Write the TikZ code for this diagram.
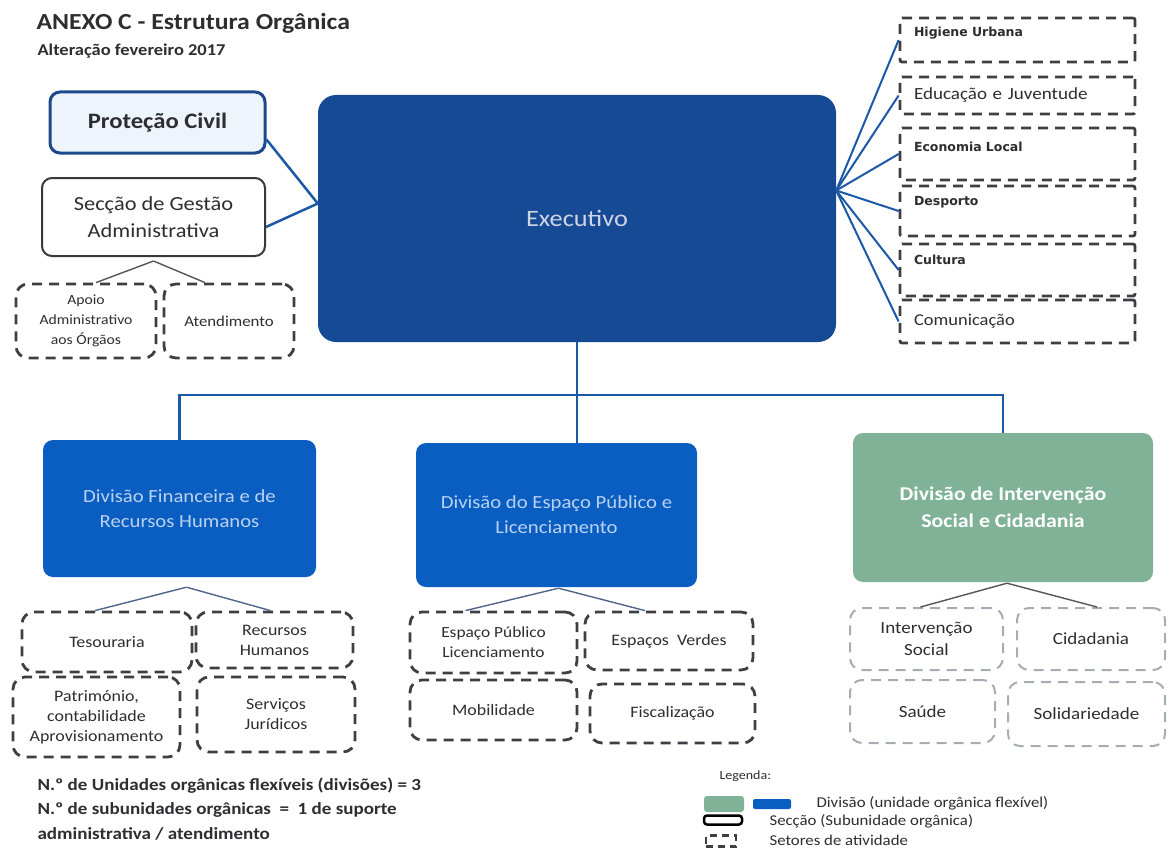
\documentclass[tikz,border=0pt]{standalone}
\usepackage{fontspec}
\setmainfont{Carlito}[FakeStretch=1.12]
\newfontfamily\widefont{DejaVu Sans}
\usetikzlibrary{positioning,calc}

\newcommand\pxfont[2]{\fontsize{#1}{#2}\selectfont}

\definecolor{execblue}{RGB}{22,74,148}
\definecolor{divblue}{RGB}{10,94,194}
\definecolor{divgreen}{RGB}{128,178,152}
\definecolor{exectext}{RGB}{205,212,228}
\definecolor{divtext}{RGB}{185,210,240}
\definecolor{civilblue}{RGB}{30,72,140}
\definecolor{civilfill}{RGB}{238,244,251}
\definecolor{secgray}{RGB}{55,55,60}
\definecolor{dashgray}{RGB}{62,62,68}
\definecolor{lightdash}{RGB}{165,172,180}
\definecolor{linkblue}{RGB}{28,88,168}
\definecolor{textgray}{RGB}{45,45,50}
\definecolor{subblue}{RGB}{80,100,140}
\definecolor{subgray}{RGB}{85,85,85}

\tikzset{every node/.style={text=textgray,font=\pxfont{16}{20}}}
\tikzset{executive/.style={rectangle,rounded corners=18pt,fill=execblue,text=exectext,font=\pxfont{23.5}{28}}}
\tikzset{division/.style={rectangle,rounded corners=10pt,fill=divblue,text=divtext,align=center,font=\pxfont{18.5}{25}}}
\tikzset{greendivision/.style={division,fill=divgreen,text=white,font=\bfseries\pxfont{19.5}{27}}}
\tikzset{section/.style={rectangle,rounded corners=10pt,draw=secgray,line width=2pt,fill=white,align=center,font=\pxfont{20}{27}}}
\tikzset{civil/.style={section,draw=civilblue,line width=3pt,fill=civilfill,font=\bfseries\pxfont{22}{26}}}
\tikzset{sector/.style={rectangle,rounded corners=12pt,draw=dashgray,line width=2.8pt,dash pattern=on 10pt off 7pt,align=center,inner sep=2pt}}
\tikzset{lightsector/.style={sector,draw=lightdash,line width=2pt,font=\pxfont{17}{22}}}
\tikzset{areabox/.style={rectangle,rounded corners=2pt,draw=dashgray,line width=2.8pt,dash pattern=on 10pt off 7pt,align=left,text width=207pt,inner xsep=14pt,minimum width=235pt}}
\tikzset{smallarea/.style={areabox,font=\widefont\bfseries\pxfont{12.5}{15}}}
\tikzset{link/.style={draw=linkblue,line width=2.5pt}}
\tikzset{fan/.style={draw=linkblue,line width=2pt}}
\tikzset{subline/.style={draw=subblue,line width=1.4pt}}

\begin{document}
\begin{tikzpicture}[x=1pt,y=-1pt]
\useasboundingbox (0,0) rectangle (1169,848);

% title
\node[anchor=west,font=\bfseries\pxfont{23}{28}] (title) at (33,23) {ANEXO C - Estrutura Orgânica};
\node[anchor=west,font=\bfseries\pxfont{16.5}{18}] (subtitle) at (34,51) {Alteração fevereiro 2017};

% top level
\node[executive,minimum width=518pt,minimum height=247pt] (exec) at (577,218.5) {Executivo};
\node[civil,minimum width=215pt,minimum height=61pt] (civil) at (157.5,122.5) {Proteção Civil};
\node[section,minimum width=223pt,minimum height=78pt] (seccao) at (153.5,217) {Secção de Gestão\\Administrativa};
\node[sector,minimum width=140pt,minimum height=74pt,font=\pxfont{14}{20}] (apoio) at (86,321) {Apoio\\Administrativo\\aos Órgãos};
\node[sector,minimum width=130pt,minimum height=74pt,font=\pxfont{15}{20}] (atend) at (229,321) {Atendimento};

% sectors of the executive
\node[smallarea,minimum height=44pt,text depth=16pt] (higiene) at (1017.5,40) {Higiene Urbana};
\node[areabox,minimum height=37pt,font=\pxfont{17}{20}] (educacao) at (1017.5,95.5) {Educação e Juventude};
\node[smallarea,minimum height=52pt,text depth=14pt] (economia) at (1017.5,154) {Economia Local};
\node[smallarea,minimum height=50pt,text depth=21pt] (desporto) at (1017.5,211) {Desporto};
\node[smallarea,minimum height=52pt,text depth=21pt] (cultura) at (1017.5,270) {Cultura};
\node[areabox,minimum height=43pt,font=\pxfont{16.5}{20}] (comunicacao) at (1017.5,321.5) {Comunicação};

% divisions
\node[division,minimum width=273pt,minimum height=137pt] (fin) at (179.5,508.5) {Divisão Financeira e de\\Recursos Humanos};
\node[division,minimum width=281pt,minimum height=144pt] (esp) at (556.5,515) {Divisão do Espaço Público e\\Licenciamento};
\node[greendivision,minimum width=300pt,minimum height=149pt] (isc) at (1003,507.5) {Divisão de Intervenção\\Social e Cidadania};
\coordinate (bar) at (exec.south |- 0,395);

% sectors of the divisions
\node[sector,minimum width=170pt,minimum height=60pt] (teso) at (107,642) {Tesouraria};
\node[sector,minimum width=157pt,minimum height=56pt] (rh) at (274.5,640) {Recursos\\Humanos};
\node[sector,minimum width=167pt,minimum height=80pt] (patr) at (96.5,717) {Património,\\contabilidade\\Aprovisionamento};
\node[sector,minimum width=158pt,minimum height=75pt] (sj) at (276,714.5) {Serviços\\Jurídicos};

\node[sector,minimum width=167pt,minimum height=61pt,font=\pxfont{15.5}{20}] (epl) at (493.5,642.5) {Espaço Público\\Licenciamento};
\node[sector,minimum width=168pt,minimum height=58pt] (ev) at (669,641) {Espaços\ \ Verdes};
\node[sector,minimum width=167pt,minimum height=60pt] (mob) at (493.5,710) {Mobilidade};
\node[sector,minimum width=165pt,minimum height=59pt] (fisc) at (672.5,713.5) {Fiscalização};

\node[lightsector,minimum width=153pt,minimum height=62pt] (interv) at (926.5,639) {Intervenção\\Social};
\node[lightsector,minimum width=148pt,minimum height=62pt] (cidad) at (1091,639) {Cidadania};
\node[lightsector,minimum width=145pt,minimum height=63pt] (saude) at (922.5,711.5) {Saúde};
\node[lightsector,minimum width=157pt,minimum height=64pt] (solid) at (1086.5,714) {Solidariedade};

% notes
\node[anchor=west,font=\bfseries\pxfont{17}{20}] (note1) at (34,786) {N.º de Unidades orgânicas flexíveis (divisões) = 3};
\node[anchor=west,font=\bfseries\pxfont{17}{20}] (note2) at (34,810) {N.º de subunidades orgânicas \ = \ 1 de suporte};
\node[anchor=west,font=\bfseries\pxfont{17}{20}] (note3) at (34,834) {administrativa / atendimento};

% legend
\node[anchor=west,font=\pxfont{12.5}{14}] (legenda) at (716,776) {Legenda:};
\node[rectangle,rounded corners=3pt,fill=divgreen,minimum width=40pt,minimum height=16pt] (keygreen) at (724,804) {};
\node[rectangle,rounded corners=2pt,fill=divblue,minimum width=38pt,minimum height=10pt] (keyblue) at (772,804) {};
\node[rectangle,rounded corners=3pt,draw=black,line width=2.5pt,fill=white,minimum width=38pt,minimum height=9pt] (keysection) at (723,820) {};
\node[rectangle,draw=dashgray,line width=2.5pt,dash pattern=on 7pt off 5pt,minimum width=30pt,minimum height=11pt] (keysector) at (721,841) {};
\node[anchor=west,font=\pxfont{15}{16}] (keydiv) at (813,803) {Divisão (unidade orgânica flexível)};
\node[anchor=west,font=\pxfont{15}{16}] (keysec) at (766,821) {Secção (Subunidade orgânica)};
\node[anchor=west,font=\pxfont{15}{16}] (keyset) at (766,840) {Setores de atividade};

% connectors
\draw[link] ([yshift=-17pt]civil.east) -- ([yshift=15pt]exec.west);
\draw[link] ([yshift=-10pt]seccao.east) -- ([yshift=15pt]exec.west);
\draw[subline,draw=subgray] ([yshift=-4pt]seccao.south) -- ([xshift=10pt]apoio.north);
\draw[subline,draw=subgray] ([yshift=-4pt]seccao.south) -- ([xshift=-24pt]atend.north);
\foreach \s in {higiene,educacao,economia,desporto,cultura,comunicacao}
  \draw[fan] ([yshift=28pt]exec.east) -- (\s.west);

\draw[link] (exec.south) -- (exec.south |- esp.north);
\draw[link] (fin.north) |- (bar) -| (isc.north);

\draw[subline] ([xshift=7pt,yshift=-10pt]fin.south) -- ([xshift=-12pt]teso.north);
\draw[subline] ([xshift=7pt,yshift=-10pt]fin.south) -- ([xshift=-4pt]rh.north);
\draw[subline] ([xshift=2pt,yshift=-1pt]esp.south) -- ([xshift=-28pt]epl.north);
\draw[subline] ([xshift=2pt,yshift=-1pt]esp.south) -- ([xshift=-24pt]ev.north);
\draw[subline,draw=subgray] ([xshift=4pt,yshift=-1pt]isc.south) -- ([xshift=-6pt]interv.north);
\draw[subline,draw=subgray] ([xshift=4pt,yshift=-1pt]isc.south) -- ([xshift=6pt]cidad.north);

\end{tikzpicture}
\end{document}
